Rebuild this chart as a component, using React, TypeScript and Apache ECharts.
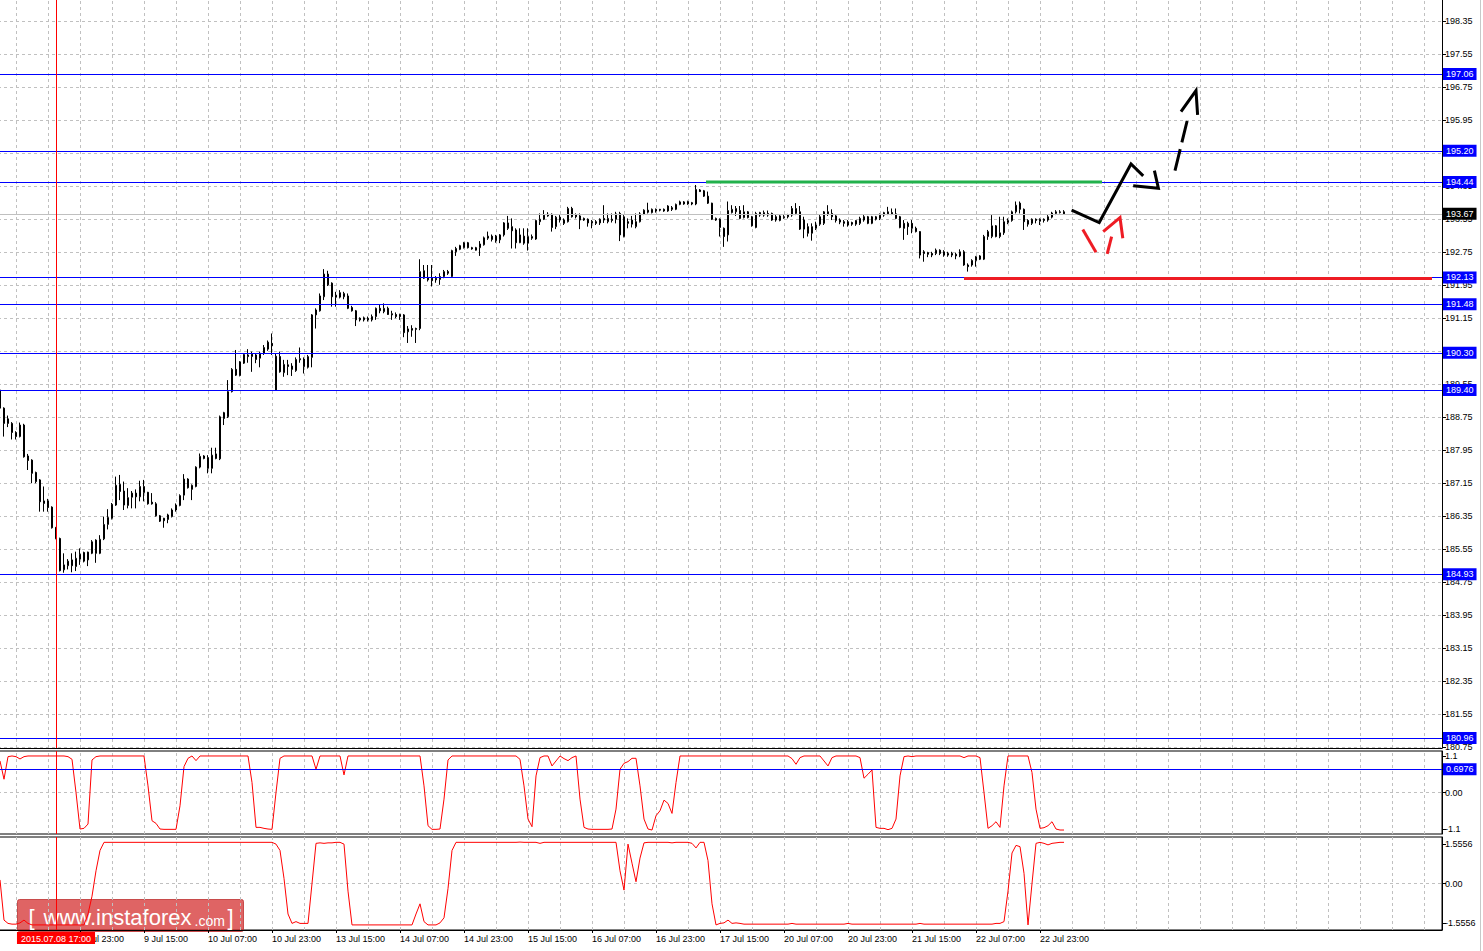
import React, { useEffect, useRef } from "react";
import * as echarts from "echarts";

const FONT = "'Liberation Sans', Arial, sans-serif";
const SLOT_COUNT = 361;
const FIRST_DAY = 8;
const FIRST_HOUR = 3;
const SKIP_DAYS: Record<number, number> = { 11: 13, 18: 20, 25: 27 };

// [open, high, low, close] hourly candles
const candles: number[][] = [
  [189.40,189.45,188.90,188.96],[188.96,188.98,188.27,188.59],[188.70,188.78,188.50,188.59],[188.59,188.62,188.20,188.37],[188.37,188.40,188.20,188.27],
  [188.27,188.61,188.25,188.55],[188.55,188.58,187.76,187.78],[187.80,187.85,187.46,187.69],[187.70,187.72,187.14,187.38],[187.40,187.42,187.14,187.18],
  [187.22,187.24,186.45,186.69],[186.71,187.06,186.45,186.65],[186.71,186.76,186.45,186.55],[186.56,186.58,186.04,186.06],[186.06,186.08,185.78,185.80],
  [185.80,185.82,185.00,185.02],[185.04,185.44,184.97,185.16],[185.14,185.30,185.05,185.25],[185.28,185.44,184.98,185.14],[185.12,185.48,185.01,185.32],
  [185.30,185.56,185.16,185.42],[185.46,185.48,185.22,185.25],[185.28,185.48,185.13,185.47],[185.44,185.76,185.42,185.72],[185.76,185.78,185.21,185.44],
  [185.44,185.88,185.42,185.78],[185.79,186.33,185.76,186.14],[186.14,186.51,186.02,186.31],[186.29,186.66,186.26,186.63],[186.61,187.30,186.59,187.09],
  [187.11,187.34,186.73,186.94],[186.95,187.18,186.49,186.61],[186.60,187.02,186.53,186.79],[186.80,186.95,186.53,186.90],[186.90,186.99,186.53,186.81],
  [186.81,187.20,186.70,187.06],[186.91,187.22,186.70,187.06],[186.92,186.93,186.62,186.64],[186.68,186.90,186.62,186.64],[186.64,186.68,186.33,186.35],
  [186.35,186.37,186.20,186.22],[186.29,186.30,186.06,186.23],[186.26,186.40,186.17,186.37],[186.33,186.53,186.31,186.49],[186.49,186.65,186.45,186.61],
  [186.60,186.87,186.58,186.84],[186.85,187.36,186.73,187.24],[187.24,187.26,187.01,187.03],[186.99,187.11,186.73,187.09],[187.06,187.55,187.04,187.53],
  [187.53,187.86,187.50,187.79],[187.80,187.82,187.72,187.74],[187.76,187.82,187.38,187.50],[187.50,188.00,187.38,187.82],[187.85,188.00,187.72,187.74],
  [187.73,188.78,187.70,188.75],[188.85,188.87,188.55,188.71],[188.75,189.64,188.72,189.36],[189.36,189.93,189.34,189.90],[189.90,190.37,189.74,189.76],
  [189.75,190.10,189.73,190.08],[190.05,190.28,190.03,190.26],[190.25,190.39,190.06,190.21],[190.21,190.33,189.84,190.27],[190.25,190.29,190.05,190.14],
  [190.17,190.33,189.95,190.29],[190.29,190.49,190.25,190.43],[190.39,190.60,190.35,190.56],[190.53,190.77,190.25,190.47],[189.40,190.29,189.40,190.22],
  [190.21,190.33,189.82,189.84],[189.82,190.13,189.72,190.02],[190.01,190.13,189.76,189.97],[189.98,190.05,189.74,189.90],[189.87,190.19,189.84,190.14],
  [190.13,190.43,190.06,190.16],[190.15,190.19,189.80,189.97],[189.95,190.25,189.92,190.21],[190.19,191.24,189.95,191.22],[191.22,191.38,190.89,191.34],
  [191.32,191.74,191.30,191.68],[191.66,192.33,191.58,192.21],[192.21,192.29,191.92,191.95],[191.99,192.01,191.42,191.66],[191.65,191.78,191.42,191.70],
  [191.65,191.82,191.62,191.76],[191.66,191.78,191.60,191.74],[191.68,191.74,191.36,191.38],[191.40,191.44,191.30,191.32],[191.32,191.34,190.95,191.10],
  [191.14,191.16,191.06,191.10],[191.10,191.18,191.06,191.15],[191.14,191.18,191.06,191.10],[191.10,191.23,191.06,191.18],[191.18,191.40,191.10,191.38],
  [191.38,191.46,191.26,191.32],[191.30,191.50,191.26,191.38],[191.38,191.42,191.22,191.23],[191.22,191.32,191.10,191.25],[191.23,191.28,191.14,191.18],
  [191.23,191.25,191.10,191.18],[191.22,191.24,190.68,190.79],[190.81,190.95,190.54,190.88],[190.89,190.97,190.69,190.85],[190.89,190.91,190.54,190.87],
  [190.89,192.57,190.85,192.27],[192.29,192.43,192.09,192.11],[192.13,192.43,192.03,192.07],[192.11,192.43,191.91,192.05],[192.07,192.16,192.00,192.11],
  [192.08,192.23,191.95,192.15],[192.15,192.31,192.11,192.27],[192.27,192.31,192.19,192.23],[192.15,192.80,192.13,192.78],[192.75,192.87,192.65,192.83],
  [192.81,192.92,192.79,192.90],[192.85,192.99,192.83,192.97],[192.97,192.99,192.83,192.85],[192.85,192.87,192.80,192.82],[192.85,192.87,192.78,192.79],
  [192.85,193.01,192.65,192.94],[192.92,193.12,192.90,193.09],[193.08,193.24,193.04,193.13],[193.13,193.17,193.00,193.05],[193.13,193.16,192.97,193.02],
  [193.04,193.18,192.96,193.16],[193.16,193.47,193.12,193.45],[193.45,193.62,193.28,193.32],[193.36,193.56,192.83,193.26],[193.28,193.32,192.83,192.97],
  [192.97,193.32,192.96,193.16],[193.13,193.32,192.92,192.96],[192.96,193.32,192.78,193.12],[193.08,193.17,193.04,193.12],[193.06,193.53,193.04,193.51],
  [193.48,193.68,193.40,193.54],[193.54,193.76,193.52,193.64],[193.62,193.71,193.60,193.66],[193.66,193.68,193.24,193.34],[193.36,193.62,193.30,193.59],
  [193.59,193.64,193.46,193.52],[193.52,193.56,193.40,193.44],[193.48,193.84,193.46,193.80],[193.80,193.84,193.58,193.60],[193.64,193.68,193.56,193.60],
  [193.62,193.68,193.30,193.52],[193.56,193.58,193.50,193.52],[193.54,193.56,193.36,193.45],[193.45,193.52,193.32,193.49],[193.48,193.52,193.40,193.44],
  [193.45,193.56,193.40,193.54],[193.56,193.88,193.45,193.52],[193.48,193.68,193.44,193.56],[193.54,193.68,193.46,193.51],[193.54,193.72,193.44,193.67],
  [193.68,193.72,193.01,193.16],[193.12,193.64,193.10,193.60],[193.48,193.56,193.32,193.44],[193.42,193.62,193.34,193.52],[193.36,193.68,193.32,193.48],
  [193.48,193.71,193.46,193.67],[193.66,193.78,193.64,193.76],[193.76,193.94,193.68,193.71],[193.70,193.80,193.68,193.78],[193.78,193.80,193.70,193.74],
  [193.78,193.79,193.73,193.76],[193.78,193.80,193.72,193.74],[193.74,193.88,193.72,193.86],[193.82,193.86,193.74,193.78],[193.78,193.92,193.76,193.90],
  [193.90,193.99,193.88,193.96],[193.96,193.98,193.89,193.91],[193.91,193.99,193.89,193.97],[193.94,193.96,193.88,193.91],[193.91,194.37,193.88,194.26],
  [194.25,194.27,194.20,194.21],[194.23,194.25,194.08,194.10],[194.10,194.21,193.91,193.93],[193.93,193.94,193.52,193.54],[193.52,193.58,193.50,193.56],
  [193.54,193.56,193.12,193.34],[193.32,193.34,192.87,193.12],[193.16,193.97,193.00,193.75],[193.70,193.88,193.68,193.78],[193.72,193.86,193.62,193.80],
  [193.75,193.86,193.54,193.56],[193.58,193.88,193.56,193.72],[193.72,193.74,193.56,193.58],[193.60,193.62,193.36,193.38],[193.34,193.72,193.32,193.68],
  [193.70,193.72,193.60,193.64],[193.64,193.75,193.60,193.70],[193.68,193.75,193.60,193.64],[193.68,193.70,193.50,193.52],[193.60,193.64,193.48,193.52],
  [193.51,193.64,193.49,193.62],[193.60,193.64,193.55,193.58],[193.64,193.67,193.56,193.60],[193.64,193.86,193.60,193.80],[193.68,193.93,193.64,193.80],
  [193.72,193.86,193.28,193.30],[193.52,193.60,193.08,193.30],[193.36,193.44,193.12,193.20],[193.20,193.44,193.02,193.36],[193.32,193.48,193.28,193.40],
  [193.42,193.64,193.38,193.60],[193.44,193.74,193.40,193.72],[193.72,193.88,193.62,193.67],[193.68,193.78,193.52,193.60],[193.62,193.64,193.46,193.51],
  [193.52,193.56,193.42,193.47],[193.48,193.52,193.36,193.44],[193.48,193.52,193.36,193.40],[193.46,193.48,193.38,193.42],[193.42,193.52,193.38,193.51],
  [193.44,193.60,193.40,193.56],[193.60,193.64,193.48,193.52],[193.60,193.62,193.42,193.44],[193.44,193.62,193.42,193.60],[193.54,193.62,193.51,193.60],
  [193.56,193.68,193.52,193.64],[193.64,193.72,193.60,193.70],[193.72,193.84,193.64,193.67],[193.70,193.80,193.64,193.67],[193.67,193.80,193.54,193.56],
  [193.60,193.62,193.32,193.34],[193.44,193.52,193.04,193.32],[193.44,193.48,193.16,193.36],[193.44,193.52,193.20,193.32],[193.32,193.36,193.22,193.24],
  [193.24,193.25,192.59,192.67],[192.75,192.79,192.51,192.71],[192.73,192.75,192.62,192.69],[192.71,192.75,192.62,192.67],[192.71,192.83,192.67,192.79],
  [192.79,192.81,192.67,192.71],[192.75,192.79,192.63,192.67],[192.71,192.75,192.63,192.67],[192.71,192.75,192.62,192.67],[192.69,192.73,192.57,192.65],
  [192.65,192.81,192.62,192.75],[192.75,192.79,192.41,192.43],[192.43,192.47,192.27,192.39],[192.43,192.57,192.39,192.54],[192.54,192.65,192.39,192.63],
  [192.65,192.67,192.55,192.57],[192.57,193.16,192.55,193.12],[193.12,193.28,193.04,193.24],[193.12,193.64,193.08,193.38],[193.38,193.40,193.10,193.12],
  [193.12,193.60,193.08,193.21],[193.21,193.60,193.16,193.48],[193.46,193.56,193.42,193.51],[193.51,193.75,193.48,193.72],[193.72,193.97,193.68,193.88],
  [193.93,193.97,193.68,193.78],[193.78,193.80,193.28,193.48],[193.51,193.54,193.36,193.42],[193.44,193.56,193.40,193.54],[193.54,193.56,193.44,193.51],
  [193.49,193.56,193.40,193.54],[193.54,193.56,193.46,193.51],[193.52,193.64,193.48,193.60],[193.59,193.72,193.56,193.69],[193.68,193.76,193.64,193.72],
  [193.70,193.76,193.68,193.72],[193.72,193.76,193.66,193.67],
];

// first oscillator (panel 1)
const osc1: number[] = [
  0.95,0.40,1.08,1.10,1.08,1.01,1.08,1.10,1.10,1.10,
  1.10,1.10,1.10,1.10,1.10,1.10,1.10,1.08,1.00,0.00,
  -1.10,-1.08,-0.95,0.98,1.08,1.10,1.10,1.10,1.10,1.10,
  1.10,1.10,1.10,1.10,1.10,1.10,1.10,0.20,-0.85,-0.93,
  -1.10,-1.11,-1.11,-1.11,-1.11,-0.40,0.78,1.03,1.10,0.96,
  1.10,1.10,1.10,1.10,1.10,1.10,1.10,1.10,1.10,1.10,
  1.10,1.10,1.10,0.30,-1.05,-1.05,-1.08,-1.10,-1.11,0.00,
  1.03,1.10,1.10,1.10,1.10,1.10,1.10,1.10,1.10,0.70,
  1.10,1.10,1.10,1.10,1.10,1.10,0.53,1.10,1.10,1.10,
  1.10,1.10,1.10,1.10,1.10,1.10,1.10,1.10,1.10,1.10,
  1.10,1.10,1.10,1.10,1.10,1.10,0.20,-1.00,-1.11,-1.11,
  -1.10,-0.20,0.98,1.10,1.10,1.10,1.10,1.10,1.10,1.10,
  1.10,1.10,1.10,1.10,1.10,1.10,1.10,1.10,1.10,1.10,
  1.00,0.20,-0.80,-1.03,0.50,1.05,1.10,1.10,0.80,0.95,
  1.10,1.02,0.96,1.05,1.10,-0.20,-1.05,-1.10,-1.11,-1.11,
  -1.11,-1.11,-1.11,-1.10,-0.50,0.70,0.88,0.93,1.03,1.03,
  0.20,-0.80,-1.10,-1.13,-0.70,-0.55,-0.23,-0.33,-0.63,0.30,
  1.10,1.10,1.10,1.10,1.10,1.10,1.10,1.10,1.10,1.10,
  1.10,1.10,1.10,1.10,1.10,1.10,1.10,1.10,1.10,1.10,
  1.10,1.10,1.10,1.10,1.10,1.10,1.10,1.10,1.02,0.85,
  1.05,1.10,1.10,1.10,1.10,1.10,0.95,0.80,1.05,1.10,
  1.10,1.10,1.10,1.10,1.10,1.05,0.43,0.55,0.68,-1.05,
  -1.08,-1.08,-1.12,-1.08,-0.80,0.50,1.08,1.10,1.08,1.10,
  1.10,1.10,1.10,1.10,1.10,1.10,1.10,1.10,1.10,1.10,
  1.10,1.05,1.10,1.10,1.10,1.05,0.00,-1.08,-1.00,-0.88,
  -1.05,0.20,1.10,1.10,1.10,1.10,1.10,1.10,0.60,-0.50,
  -1.08,-1.06,-1.00,-0.88,-1.10,-1.13,-1.13,
];

// second oscillator (panel 2)
const osc2: number[] = [
  0.14,-1.44,-1.57,-1.60,-1.60,-1.55,-1.44,-1.57,-1.63,-1.63,
  -1.63,-1.63,-1.63,-1.63,-1.63,-1.63,-1.63,-1.63,-1.63,-1.63,
  -1.63,-1.63,-1.20,-0.50,0.50,1.30,1.62,1.62,1.62,1.62,
  1.62,1.62,1.62,1.62,1.62,1.62,1.62,1.62,1.62,1.62,
  1.62,1.62,1.62,1.62,1.62,1.62,1.62,1.62,1.62,1.62,
  1.62,1.62,1.62,1.62,1.62,1.62,1.62,1.62,1.62,1.62,
  1.62,1.62,1.62,1.62,1.62,1.62,1.62,1.62,1.62,1.55,
  1.30,0.20,-1.20,-1.57,-1.50,-1.57,-1.57,-1.57,0.00,1.58,
  1.60,1.58,1.60,1.60,1.62,1.62,1.55,-0.30,-1.63,-1.63,
  -1.63,-1.63,-1.63,-1.63,-1.63,-1.63,-1.63,-1.63,-1.63,-1.63,
  -1.63,-1.63,-1.63,-1.63,-1.20,-0.80,-1.50,-1.63,-1.63,-1.63,
  -1.55,-1.35,-0.20,1.30,1.62,1.62,1.62,1.62,1.62,1.62,
  1.62,1.62,1.62,1.62,1.62,1.62,1.62,1.62,1.62,1.62,
  1.63,1.62,1.62,1.62,1.62,1.58,1.62,1.62,1.62,1.62,
  1.62,1.62,1.62,1.62,1.62,1.62,1.62,1.62,1.62,1.62,
  1.62,1.62,1.62,1.62,1.62,0.50,-0.26,1.55,0.80,0.07,
  1.00,1.60,1.62,1.62,1.62,1.62,1.62,1.62,1.60,1.62,
  1.62,1.62,1.62,1.58,1.40,1.62,1.62,0.90,-0.80,-1.63,
  -1.57,-1.55,-1.44,-1.57,-1.55,-1.57,-1.60,-1.60,-1.60,-1.60,
  -1.60,-1.60,-1.60,-1.60,-1.60,-1.60,-1.60,-1.60,-1.57,-1.60,
  -1.60,-1.60,-1.60,-1.60,-1.60,-1.60,-1.60,-1.60,-1.60,-1.60,
  -1.60,-1.60,-1.57,-1.60,-1.60,-1.60,-1.60,-1.60,-1.60,-1.60,
  -1.60,-1.60,-1.60,-1.60,-1.60,-1.60,-1.60,-1.60,-1.60,-1.60,
  -1.57,-1.60,-1.60,-1.60,-1.60,-1.60,-1.60,-1.60,-1.60,-1.60,
  -1.60,-1.60,-1.60,-1.60,-1.60,-1.60,-1.60,-1.60,-1.60,-1.57,
  -1.57,-1.50,-0.30,1.20,1.50,1.45,0.40,-1.63,0.00,1.58,
  1.62,1.58,1.52,1.58,1.60,1.62,1.62,
];

const priceTicks = [198.35,197.55,196.75,195.95,195.15,194.35,193.55,192.75,191.95,191.15,190.35,189.55,188.75,187.95,187.15,186.35,185.55,184.75,183.95,183.15,182.35,181.55,180.75];
const osc1Ticks = [1.1, 0, -1.1];
const osc2Ticks = [1.5556, 0, -1.5556];
const xTickLabels = ["8 Jul 23:00","9 Jul 15:00","10 Jul 07:00","10 Jul 23:00","13 Jul 15:00","14 Jul 07:00","14 Jul 23:00","15 Jul 15:00","16 Jul 07:00","16 Jul 23:00","17 Jul 15:00","20 Jul 07:00","20 Jul 23:00","21 Jul 15:00","22 Jul 07:00","22 Jul 23:00"];

const blueLevels = [197.06, 195.20, 194.44, 192.13, 191.48, 190.30, 189.40, 184.93, 180.96];
const lastPrice = 193.67;
const osc1Level = 0.6976;
const markerIndex = 14;
const markerLabel = "2015.07.08 17:00";

// drawn objects: [bar index, price]
const greenLevel = [[176.5, 194.44], [275.5, 194.44]];
const redLevel = [[241, 192.10], [358, 192.10]];
const blackPath = [[267.9, 193.76], [274.8, 193.46], [282.75, 194.88], [285.8, 194.59]];
const blackHead = [[283.3, 194.35], [289.6, 194.29], [288.6, 194.72]];
const dashShaft = [[293.75, 194.72], [296.9, 195.97]];
const dashHead = [[295.25, 196.15], [299.0, 196.66], [299.4, 196.07]];
const redStroke1 = [[270.7, 193.29], [274.0, 192.74]];
const redStroke2 = [[276.8, 192.70], [277.9, 193.12]];
const redHead = [[275.8, 193.24], [280.0, 193.58], [280.7, 193.08]];

function buildCategories(n: number): string[] {
  const out: string[] = [];
  let day = FIRST_DAY;
  let hour = FIRST_HOUR;
  for (let i = 0; i < n; i++) {
    out.push(`${day} Jul ${String(hour).padStart(2, "0")}:00`);
    hour += 1;
    if (hour === 24) {
      hour = 0;
      day += 1;
      if (SKIP_DAYS[day]) day = SKIP_DAYS[day];
    }
  }
  return out;
}

function buildOption() {
  const categories = buildCategories(SLOT_COUNT);
  const isTick = (_i: number, v: string) => xTickLabels.includes(v);
  const gridStyle = { color: "#c0c0c0", type: [3, 3], width: 1 };
  const vGrid: any[] = [];
  for (let k = 4; k < SLOT_COUNT; k += 8) vGrid.push({ xAxis: k });

  const boxLabel = (text: string, bg: string) => ({
    show: true,
    position: "end",
    formatter: text,
    backgroundColor: bg,
    color: "#fff",
    fontSize: 9,
    fontFamily: FONT,
    padding: [2, 3, 1, 3],
    distance: 1,
  });

  const mlBase = { silent: true, symbol: ["none", "none"], animation: false, label: { show: false } };

  const helper = (xi: number, yi: number, z: number, data: any[], lineStyle?: any) => ({
    type: "line",
    xAxisIndex: xi,
    yAxisIndex: yi,
    data: [],
    symbol: "none",
    silent: true,
    z,
    markLine: { ...mlBase, z, lineStyle: lineStyle || { color: "#0000ff", type: "solid", width: 1 }, data },
  });

  const drawn = (data: number[][], color: string, width: number, type: any = "solid") => ({
    type: "line",
    xAxisIndex: 1,
    yAxisIndex: 0,
    data,
    symbol: "none",
    silent: true,
    z: 6,
    lineStyle: { color, width, type, cap: "butt", join: "miter" },
  });

  const redV = { xAxis: markerIndex, lineStyle: { color: "#ff0000", width: 1, type: "solid" } };

  const axisLabelBase = { fontSize: 9, color: "#000", fontFamily: FONT };

  return {
    animation: false,
    backgroundColor: "#ffffff",
    textStyle: { fontFamily: FONT },
    grid: [
      { left: -2, right: 41, top: 0, height: 748, show: false, outerBoundsMode: "none" },
      { left: -2, right: 41, top: 751, height: 83, show: true, borderColor: "#000", borderWidth: 1, backgroundColor: "transparent", outerBoundsMode: "none" },
      { left: -2, right: 41, top: 837, height: 93, show: true, borderColor: "#000", borderWidth: 1, backgroundColor: "transparent", outerBoundsMode: "none" },
    ],
    xAxis: [
      { type: "category", gridIndex: 0, data: categories, boundaryGap: true, axisLine: { show: true, onZero: false, lineStyle: { color: "#000" } }, axisTick: { show: false }, axisLabel: { show: false }, splitLine: { show: false } },
      { type: "value", gridIndex: 0, min: -0.5, max: SLOT_COUNT - 0.5, show: false },
      { type: "category", gridIndex: 1, data: categories, boundaryGap: true, axisLine: { show: false, onZero: false }, axisTick: { show: false }, axisLabel: { show: false }, splitLine: { show: false } },
      { type: "value", gridIndex: 1, min: -0.5, max: SLOT_COUNT - 0.5, show: false },
      {
        type: "category", gridIndex: 2, data: categories, boundaryGap: true,
        axisLine: { show: true, onZero: false, lineStyle: { color: "#000" } },
        axisTick: { show: true, interval: isTick, alignWithLabel: true, length: 3, lineStyle: { color: "#000" } },
        axisLabel: { show: true, interval: isTick, align: "left", margin: 4, ...axisLabelBase },
        splitLine: { show: false },
      },
      { type: "value", gridIndex: 2, min: -0.5, max: SLOT_COUNT - 0.5, show: false },
    ],
    yAxis: [
      {
        type: "value", gridIndex: 0, position: "right", min: 180.72, max: 198.855,
        axisLine: { show: true, onZero: false, lineStyle: { color: "#000" } },
        axisTick: { show: true, customValues: priceTicks, length: 4, lineStyle: { color: "#000" } },
        axisLabel: { show: true, customValues: priceTicks, formatter: (v: number) => v.toFixed(2), margin: 3, ...axisLabelBase },
        splitLine: { show: false },
      },
      {
        type: "value", gridIndex: 1, position: "right", min: -1.25, max: 1.25,
        axisLine: { show: true, onZero: false, lineStyle: { color: "#000" } },
        axisTick: { show: true, customValues: osc1Ticks, length: 4, lineStyle: { color: "#000" } },
        axisLabel: { show: true, customValues: osc1Ticks, formatter: (v: number) => (v === 0 ? "0.00" : String(v)), margin: 3, ...axisLabelBase },
        splitLine: { show: false },
      },
      {
        type: "value", gridIndex: 2, position: "right", min: -1.83, max: 1.83,
        axisLine: { show: true, onZero: false, lineStyle: { color: "#000" } },
        axisTick: { show: true, customValues: osc2Ticks, length: 4, lineStyle: { color: "#000" } },
        axisLabel: { show: true, customValues: osc2Ticks, formatter: (v: number) => (v === 0 ? "0.00" : v.toFixed(4)), margin: 3, ...axisLabelBase },
        splitLine: { show: false },
      },
    ],
    series: [
      // main grid lines
      helper(1, 0, 1, [...vGrid, ...priceTicks.map((v) => ({ yAxis: v }))], gridStyle),
      {
        type: "candlestick",
        xAxisIndex: 0,
        yAxisIndex: 0,
        data: candles.map(([o, h, l, c]) => [o, c, l, h]),
        barWidth: 2,
        z: 3,
        silent: true,
        itemStyle: { color: "#ffffff", color0: "#000000", borderColor: "#000000", borderColor0: "#000000", borderColorDoji: "#000000", borderWidth: 1 },
      },
      helper(1, 0, 4, [
        { yAxis: lastPrice, lineStyle: { color: "#c0c0c0", width: 1, type: "solid" }, label: boxLabel(lastPrice.toFixed(2), "#000000") },
        ...blueLevels.map((v) => ({ yAxis: v, lineStyle: { color: "#0000ff", width: 1, type: "solid" }, label: boxLabel(v.toFixed(2), "#0000ff") })),
        redV,
      ]),
      drawn(greenLevel, "#22b14c", 3),
      drawn(redLevel, "#ee1c24", 3),
      drawn(blackPath, "#000000", 3),
      drawn(blackHead, "#000000", 3),
      drawn(dashShaft, "#000000", 3, [22, 7]),
      drawn(dashHead, "#000000", 3),
      drawn(redStroke1, "#ee1c24", 3),
      drawn(redStroke2, "#ee1c24", 3),
      drawn(redHead, "#ee1c24", 3),
      // panel 1
      helper(3, 1, 1, [...vGrid, { yAxis: 0 }], gridStyle),
      {
        type: "line", xAxisIndex: 2, yAxisIndex: 1, data: osc1, symbol: "none", silent: true, z: 3,
        lineStyle: { color: "#ff0000", width: 1 },
      },
      helper(3, 1, 4, [
        { yAxis: osc1Level, lineStyle: { color: "#0000ff", width: 1, type: "solid" }, label: boxLabel(osc1Level.toFixed(4), "#0000ff") },
        redV,
      ]),
      // panel 2
      helper(5, 2, 1, [...vGrid, { yAxis: 0 }], gridStyle),
      {
        type: "line", xAxisIndex: 4, yAxisIndex: 2, data: osc2, symbol: "none", silent: true, z: 3,
        lineStyle: { color: "#ff0000", width: 1 },
      },
      helper(5, 2, 4, [
        {
          ...redV,
          label: {
            show: true, position: "start", formatter: markerLabel, backgroundColor: "#ff0000", color: "#fff",
            fontSize: 9, fontFamily: FONT, padding: [2, 4, 1, 4], distance: 2,
          },
        },
      ]),
    ],
    graphic: [
      {
        type: "group",
        left: 17,
        top: 899,
        z: 100,
        children: [
          { type: "rect", shape: { x: 0, y: 0, width: 226, height: 32, r: 2 }, style: { fill: "rgba(210,40,40,0.72)", stroke: "rgba(190,50,50,0.8)", lineWidth: 1 } },
          { type: "text", x: 11, y: 29, style: { text: "[", fill: "#fff", font: `22px ${FONT}`, verticalAlign: "bottom" } },
          { type: "text", x: 26, y: 29, style: { text: "www.instaforex", fill: "#fff", font: `22px ${FONT}`, verticalAlign: "bottom" } },
          { type: "text", x: 177, y: 28, style: { text: ".com", fill: "#fff", font: `14px ${FONT}`, verticalAlign: "bottom" } },
          { type: "text", x: 210, y: 29, style: { text: "]", fill: "#fff", font: `22px ${FONT}`, verticalAlign: "bottom" } },
        ],
      },
      { type: "line", shape: { x1: 1480.5, y1: 0, x2: 1480.5, y2: 951 }, style: { stroke: "#c8c8c8", lineWidth: 1 }, silent: true },
    ],
  };
}

export default function App() {
  const ref = useRef<HTMLDivElement>(null);
  useEffect(() => {
    document.body.style.margin = "0";
    const chart = echarts.init(ref.current as HTMLDivElement, null, { renderer: "svg" });
    chart.setOption(buildOption() as any);
    return () => chart.dispose();
  }, []);
  return (
    <div
      ref={ref}
      style={{ position: "absolute", left: 0, top: 0, width: 1483, height: 951, background: "#fff" }}
    />
  );
}
